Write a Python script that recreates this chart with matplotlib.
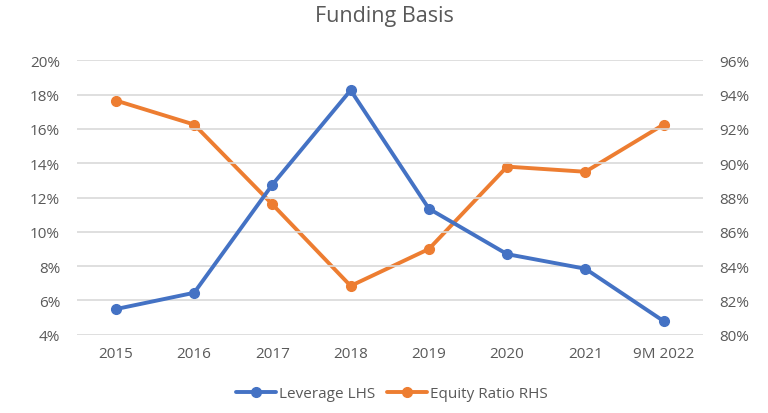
import matplotlib
matplotlib.use("Agg")
import matplotlib.pyplot as plt
from matplotlib.ticker import FuncFormatter
import numpy as np

# data
categories = ["2015", "2016", "2017", "2018", "2019", "2020", "2021", "9M 2022"]
leverage = [5.5, 6.45, 12.75, 18.25, 11.35, 8.7, 7.85, 4.8]
equity_ratio = [93.65, 92.25, 87.6, 82.85, 85.0, 89.8, 89.5, 92.25]

plt.rcParams['font.family'] = ['Open Sans', 'DejaVu Sans']
grey = '#595959'
blue = '#4472C4'
orange = '#ED7D31'

fig = plt.figure(figsize=(7.68, 4.14), dpi=100)
ax = fig.add_axes([0.1, 0.188, 0.815, 0.665])
ax2 = ax.twinx()

x = np.arange(len(categories))
l1, = ax.plot(x, leverage, color=blue, linewidth=2.8, marker='o', markersize=7,
              label='Leverage LHS', solid_capstyle='round')
l2, = ax2.plot(x, equity_ratio, color=orange, linewidth=2.8, marker='o', markersize=7,
               label='Equity Ratio RHS', solid_capstyle='round')

ax.set_xlim(-0.5, len(categories) - 0.5)
ax.set_ylim(3.98, 20.02)
ax.set_yticks(np.arange(4, 21, 2))
ax2.set_ylim(79.98, 96.02)
ax2.set_yticks(np.arange(80, 97, 2))
ax.yaxis.set_major_formatter(FuncFormatter(lambda v, p: f"{v:.0f}%"))
ax2.yaxis.set_major_formatter(FuncFormatter(lambda v, p: f"{v:.0f}%"))
ax.set_xticks(x)
ax.set_xticklabels(categories)

ax.grid(axis='y', color='#D9D9D9', linewidth=1.2)
ax.set_axisbelow(True)
for a in (ax, ax2):
    for s in a.spines.values():
        s.set_visible(False)
    a.tick_params(length=0, colors=grey, labelsize=11)
ax.tick_params(axis='y', pad=12)
ax2.tick_params(axis='y', pad=12)
ax.tick_params(axis='x', pad=8)

ax.set_zorder(ax2.get_zorder() + 1)
ax.patch.set_visible(False)

fig.suptitle("Funding Basis", y=0.985, fontsize=15.5, color=grey)
fig.legend(handles=[l1, l2], loc='lower center', bbox_to_anchor=(0.51, -0.005),
           ncol=2, frameon=False, fontsize=11, labelcolor=grey,
           handlelength=2.6, columnspacing=0.8, handletextpad=0.2)

fig.savefig("out.png", dpi=100)
